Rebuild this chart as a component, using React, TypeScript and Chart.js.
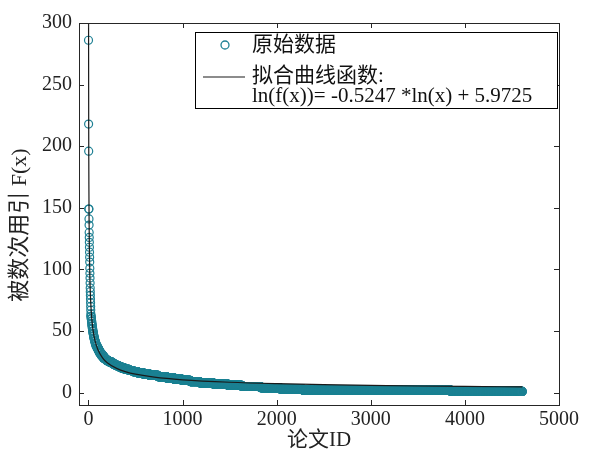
import React, { useEffect, useRef } from "react";
import { Chart, registerables } from "chart.js";

Chart.register(...registerables);

// Citation level (sorted descending) and how many papers share that level
const citationLevels = [
  286, 218, 196, 149, 141, 136, 130, 126, 122, 118, 114, 110, 106, 101, 97, 93, 89, 85, 82, 79, 76, 73, 70, 67, 64,
  62, 60, 58, 56, 54, 52, 50, 48, 46, 44, 42, 40, 38, 36, 34, 32, 30,
  28, 27, 26, 25, 24, 23, 22, 21, 20, 19, 18, 17, 16, 15, 14, 13, 12, 11, 10, 9, 8, 7, 6, 5, 4, 3, 2, 1,
];
const papersPerLevel = [
  1, 1, 1, 2, 1, 1, 1, 1, 1, 1, 1, 1, 1, 1, 1, 1, 1, 1, 1, 1, 1, 1, 1, 1, 1,
  3, 3, 3, 3, 3, 4, 4, 5, 5, 6, 7, 8, 12, 14, 14, 18, 22,
  20, 15, 20, 30, 20, 25, 30, 30, 35, 45, 45, 50, 60, 65, 90, 90, 80, 80, 90, 100, 146, 154, 150, 200, 206, 244, 1570, 760,
];

// Fitted curve samples: ln(f(x)) = -0.5247*ln(x) + 5.9725
const fitX = [1, 1.6, 2, 3, 4, 5, 7, 10, 15, 20, 30, 40, 50, 70, 100, 150, 200, 300, 400, 500, 700, 1000, 1500, 2000, 2500, 3000, 3500, 4000, 4610];
const fitY = [392.5, 306.7, 272.8, 220.5, 189.6, 168.7, 141.4, 117.2, 94.8, 81.5, 65.9, 56.6, 50.4, 42.2, 35.0, 28.3, 24.3, 19.7, 16.9, 15.05, 12.6, 10.46, 8.46, 7.27, 6.47, 5.88, 5.42, 5.06, 4.69];

const xTicks = [0, 1000, 2000, 3000, 4000, 5000];
const yTicks = [0, 50, 100, 150, 200, 250, 300];

const legendLabels = ["原始数据", "拟合曲线函数:", "ln(f(x))= -0.5247 *ln(x) + 5.9725"];
const xTitle = "论文ID";
const yTitle = "被数次用引 F(x)";

const TEAL = "rgb(30,128,148)";
const FRAME = "#262626";
const SERIF = '"Liberation Serif", "Noto Sans CJK SC", serif';

export default function App() {
  const ref = useRef<HTMLCanvasElement | null>(null);

  useEffect(() => {
    if (!ref.current) return;
    const rawPoints: { x: number; y: number }[] = [];
    let rank = 1;
    citationLevels.forEach((v, i) => {
      for (let k = 0; k < papersPerLevel[i]; k++) {
        rawPoints.push({ x: rank, y: v });
        rank++;
      }
    });
    const fitPoints = fitX.map((x, i) => ({ x, y: fitY[i] }));

    const framePlugin = {
      id: "framePlugin",
      afterDraw(chart: any) {
        const ctx = chart.ctx;
        const { left, right, top, bottom } = chart.chartArea;
        const xs = chart.scales.x;
        const ys = chart.scales.y;
        ctx.save();
        ctx.strokeStyle = FRAME;
        ctx.lineWidth = 1;
        ctx.strokeRect(Math.round(left) + 0.5, Math.round(top) + 0.5, Math.round(right - left), Math.round(bottom - top));
        ctx.beginPath();
        xTicks.forEach((v) => {
          const px = Math.round(xs.getPixelForValue(v)) + 0.5;
          ctx.moveTo(px, bottom);
          ctx.lineTo(px, bottom - 5);
          ctx.moveTo(px, top);
          ctx.lineTo(px, top + 5);
        });
        yTicks.forEach((v) => {
          const py = Math.round(ys.getPixelForValue(v)) + 0.5;
          ctx.moveTo(left, py);
          ctx.lineTo(left + 5, py);
          ctx.moveTo(right, py);
          ctx.lineTo(right - 5, py);
        });
        ctx.stroke();

        // legend
        ctx.fillStyle = "#ffffff";
        ctx.fillRect(195.5, 32.5, 362, 76);
        ctx.strokeStyle = "#000000";
        ctx.strokeRect(195.5, 32.5, 362, 76);
        ctx.beginPath();
        ctx.strokeStyle = TEAL;
        ctx.lineWidth = 1.3;
        ctx.arc(225, 45, 4, 0, Math.PI * 2);
        ctx.stroke();
        ctx.beginPath();
        ctx.strokeStyle = "#1a1a1a";
        ctx.lineWidth = 1.2;
        ctx.moveTo(203, 77);
        ctx.lineTo(245, 77);
        ctx.stroke();
        ctx.fillStyle = "#111111";
        ctx.font = "21px " + SERIF;
        ctx.textAlign = "left";
        ctx.textBaseline = "middle";
        ctx.fillText(legendLabels[0], 252, 45);
        ctx.fillText(legendLabels[1], 252, 76);
        ctx.fillText(legendLabels[2], 252, 96);

        // axis titles
        ctx.fillStyle = "#222222";
        ctx.textAlign = "center";
        ctx.fillText(xTitle, (left + right) / 2, 440);
        ctx.save();
        ctx.font = "22px " + SERIF;
        ctx.translate(20, 225);
        ctx.rotate(-Math.PI / 2);
        ctx.fillText(yTitle, 0, 0);
        ctx.restore();
        ctx.restore();
      },
    };

    const chart = new Chart(ref.current, {
      type: "scatter",
      data: {
        datasets: [
          {
            type: "line",
            label: "fit",
            data: fitPoints,
            borderColor: "#1a1a1a",
            borderWidth: 1.2,
            pointRadius: 0,
            fill: false,
            cubicInterpolationMode: "monotone",
            clip: 0,
            order: 0,
          } as any,
          {
            type: "scatter",
            label: "raw",
            data: rawPoints,
            borderColor: TEAL,
            backgroundColor: "rgba(0,0,0,0)",
            borderWidth: 1.2,
            pointRadius: 4,
            pointStyle: "circle",
            clip: 0,
            order: 1,
          } as any,
        ],
      },
      options: {
        animation: false,
        responsive: true,
        maintainAspectRatio: false,
        layout: { padding: { top: 23, right: 31, left: 0, bottom: 0 } },
        plugins: { legend: { display: false }, tooltip: { enabled: false } },
        scales: {
          x: {
            type: "linear",
            min: -100,
            max: 5000,
            grid: { display: false, drawTicks: false },
            border: { display: false },
            afterBuildTicks: (s: any) => {
              s.ticks = xTicks.map((v) => ({ value: v }));
            },
            afterFit: (s: any) => {
              s.height = 47;
            },
            ticks: {
              padding: 3,
              maxRotation: 0,
              autoSkip: false,
              color: "#222222",
              font: { family: SERIF, size: 20 },
              callback: (v: any) => String(v),
            },
          },
          y: {
            type: "linear",
            min: -10,
            max: 300,
            grid: { display: false, drawTicks: false },
            border: { display: false },
            afterBuildTicks: (s: any) => {
              s.ticks = yTicks.map((v) => ({ value: v }));
            },
            afterFit: (s: any) => {
              s.width = 79;
            },
            ticks: {
              padding: 7,
              autoSkip: false,
              color: "#222222",
              font: { family: SERIF, size: 20 },
              callback: (v: any) => String(v),
            },
          },
        },
      },
      plugins: [framePlugin],
    });
    return () => chart.destroy();
  }, []);

  return (
    <div style={{ position: "absolute", left: 0, top: 0, width: 590, height: 452, background: "#fff" }}>
      <canvas ref={ref} />
    </div>
  );
}
